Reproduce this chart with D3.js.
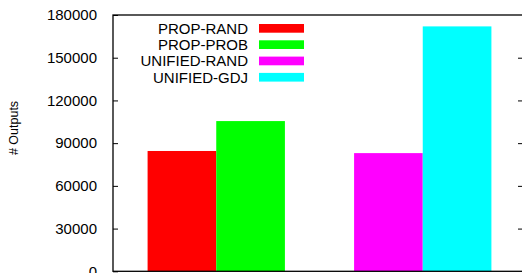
<!DOCTYPE html>
<html>
<head>
<meta charset="utf-8">
<script src="https://cdn.jsdelivr.net/npm/d3@7"></script>
<style>
  body { margin: 0; background: #fff; }
  svg { display: block; font-family: "Liberation Sans", Arial, sans-serif; }
</style>
</head>
<body>
<script>
// groups on the x axis, and the series drawn in each group
var groups = ["PROP", "UNIFIED"];
var series = ["PROP-RAND", "PROP-PROB", "UNIFIED-RAND", "UNIFIED-GDJ"];
var seriesGroup = ["PROP", "PROP", "UNIFIED", "UNIFIED"];
var seriesColor = ["#ff0000", "#00ff00", "#ff00ff", "#00ffff"];
var outputs = [84500, 105500, 83000, 172000];
var yTicks = [0, 30000, 60000, 90000, 120000, 150000, 180000];

var width = 522, height = 273;
// plot frame (window.top is reserved, so use own names)
var plotL = 113, plotT = 15, plotR = 523, plotB = 271.3;

var svg = d3.select("body").append("svg")
  .attr("width", width)
  .attr("height", height);

var y = d3.scaleLinear().domain([0, 180000]).range([plotB, plotT]);

// groups share the frame, each holds two bars side by side
var x0 = d3.scaleBand().domain(groups).range([plotL, 526])
  .paddingInner(0.335).paddingOuter(0.1675);
var x1 = d3.scaleBand().domain([0, 1]).range([0, x0.bandwidth()]);

// bars
svg.selectAll(".bar")
  .data(outputs)
  .enter()
  .append("rect")
  .attr("class", "bar")
  .attr("x", function(d, i){ return x0(seriesGroup[i]) + x1(i % 2); })
  .attr("y", function(d){ return y(d); })
  .attr("width", x1.bandwidth())
  .attr("height", function(d){ return y(0) - y(d); })
  .attr("fill", function(d, i){ return seriesColor[i]; });

// frame
svg.append("rect")
  .attr("x", plotL).attr("y", plotT)
  .attr("width", plotR - plotL).attr("height", plotB - plotT)
  .attr("fill", "none").attr("stroke", "#000").attr("stroke-width", 1.3);

// left axis ticks and labels
var yAxisL = d3.axisLeft(y).tickValues(yTicks).tickSize(-5).tickPadding(16)
  .tickFormat(d3.format("d"));
var gl = svg.append("g").attr("transform", "translate(" + plotL + ",0)").call(yAxisL);
gl.select(".domain").remove();
gl.selectAll("text").attr("font-size", 15).attr("fill", "#000")
  .attr("font-family", "Liberation Sans, Arial, sans-serif");

// right axis ticks only
var yAxisR = d3.axisRight(y).tickValues(yTicks.slice(1, 6)).tickSize(-5).tickFormat("");
var gr = svg.append("g").attr("transform", "translate(" + plotR + ",0)").call(yAxisR);
gr.select(".domain").remove();

// y axis title
svg.append("text")
  .attr("transform", "translate(18,128) rotate(-90)")
  .attr("text-anchor", "middle")
  .attr("font-size", 12.5)
  .text("# Outputs");

// legend
var legend = svg.selectAll(".legend")
  .data(series)
  .enter()
  .append("g")
  .attr("class", "legend")
  .attr("transform", function(d, i){ return "translate(0," + (28.3 + i * 16.3) + ")"; });

legend.append("text")
  .attr("x", 248)
  .attr("dy", "0.36em")
  .attr("text-anchor", "end")
  .attr("font-size", 15)
  .text(function(d){ return d; });

legend.append("rect")
  .attr("x", 259).attr("y", -4.3)
  .attr("width", 45).attr("height", 8.7)
  .attr("fill", function(d, i){ return seriesColor[i]; });
</script>
</body>
</html>
